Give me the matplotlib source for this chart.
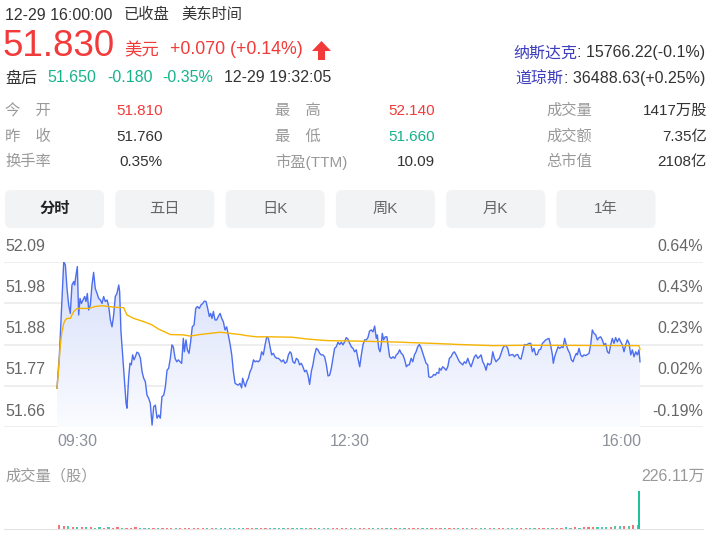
import numpy as np
import matplotlib
matplotlib.use("Agg")
import matplotlib.pyplot as plt
from matplotlib.patches import FancyBboxPatch, Polygon

plt.rcParams['font.family'] = ['Liberation Sans', 'Noto Sans CJK SC', 'DejaVu Sans']

RED = "#f23a3a"
GREEN = "#17b28c"
DARK = "#333333"
GRAY = "#999999"

# ---- data ----
prev_close = 51.76

# minutes after 09:30 and last price
t_price = [0, 1.6, 4.5, 5.6, 6.7, 7.8, 8.9, 10.0, 11.2, 11.8, 12.7, 13.6, 14.5, 15.4, 16.3, 17.4,
           18.5, 19.4, 20.3, 21.2, 22.3, 23.4, 24.5, 25.6, 26.8, 27.9, 29.0, 30.1, 31.2, 32.3, 33.5,
           34.6, 35.7, 36.8, 37.9, 39.0, 40.1, 41.3, 41.9, 42.8, 43.9, 45.0, 46.2, 46.8, 47.9, 48.8,
           49.7, 50.6, 51.5, 52.4, 53.5, 54.6, 55.8, 56.9, 58.0, 59.1, 60.2, 61.3, 62.4, 63.6, 64.7,
           65.8, 66.9, 68.0, 69.1, 70.2, 71.4, 72.5, 73.6, 74.7, 75.8, 76.9, 77.8, 79.0, 80.1, 81.2,
           82.3, 83.4, 84.5, 85.2, 86.3, 87.2, 88.3, 89.4, 90.5, 91.7, 92.8, 93.9, 95.2, 96.3, 97.5,
           98.6, 99.7, 100.8, 101.9, 102.8, 103.7, 104.6, 105.7, 106.8, 107.9, 109.1, 110.2, 111.3,
           112.4, 113.5, 114.6, 115.7, 116.9, 118.0, 119.1, 120.2, 121.3, 122.4, 123.5, 124.2, 125.1,
           126.0, 126.9, 128.0, 129.1, 130.2, 131.4, 132.5, 133.6, 134.7, 135.8, 136.9, 138.0, 139.2,
           140.3, 141.4, 142.5, 143.6, 144.7, 145.8, 147.0, 148.1, 149.2, 150.3, 151.4, 152.5, 153.7,
           154.8, 155.9, 156.7, 157.8, 159.0, 160.1, 161.2, 162.3, 163.4, 164.5, 165.7, 166.8, 167.9,
           169.0, 170.1, 171.2, 172.3, 173.5, 174.6, 175.7, 176.8, 177.9, 179.0, 180.2, 181.3, 182.4,
           183.5, 184.6, 185.7, 186.8, 188.0, 189.1, 190.2, 191.3, 192.4, 193.5, 194.6, 195.8, 196.9,
           198.0, 199.1, 200.2, 201.3, 202.5, 203.6, 204.7, 205.8, 206.9, 208.0, 209.1, 210.3, 211.4,
           212.5, 213.6, 214.3, 215.2, 216.1, 216.9, 217.6, 218.5, 219.6, 220.7, 221.4, 222.5, 223.6,
           224.8, 225.9, 227.0, 228.1, 229.2, 230.3, 231.4, 232.6, 233.7, 234.8, 235.7, 236.9, 238.0,
           239.1, 240.2, 241.3, 242.4, 243.5, 244.7, 245.8, 246.9, 248.0, 248.7, 249.6, 250.9, 252.0,
           253.1, 254.2, 255.4, 255.8, 256.9, 258.0, 259.2, 260.3, 261.4, 262.5, 263.6, 264.7, 265.8,
           267.0, 268.1, 269.2, 270.3, 271.4, 272.5, 273.6, 274.8, 275.9, 277.0, 278.1, 279.2, 280.3,
           281.5, 282.6, 283.7, 284.8, 285.9, 287.0, 288.1, 289.3, 290.4, 291.5, 292.6, 293.7, 294.8,
           295.9, 297.1, 298.2, 299.3, 300.4, 301.5, 302.6, 303.8, 304.9, 306.0, 307.1, 308.2, 309.3,
           310.4, 311.6, 312.7, 313.5, 314.6, 315.8, 316.9, 318.0, 319.1, 320.2, 321.3, 322.4, 323.6,
           324.7, 325.8, 326.9, 328.0, 329.1, 330.2, 331.4, 332.0, 332.9, 334.0, 335.2, 336.3, 337.4,
           338.5, 339.6, 340.7, 341.8, 343.0, 344.1, 345.2, 346.3, 347.4, 348.1, 349.2, 350.3, 351.4,
           352.5, 353.7, 354.8, 355.9, 357.0, 358.1, 359.2, 360.4, 361.5, 362.6, 363.7, 364.8, 365.9,
           367.0, 368.2, 369.3, 370.4, 371.5, 372.6, 373.7, 374.8, 376.0, 377.1, 378.2, 379.3, 380.4,
           381.5, 382.7, 383.8, 384.9, 386.0, 387.1, 388.2, 389.3, 390.0]
price = [51.761, 51.848, 52.091, 52.082, 52.021, 51.978, 51.956, 52.030, 52.039, 52.030, 52.056,
         52.078, 51.952, 51.995, 51.982, 51.991, 52.000, 51.987, 52.008, 51.965, 51.978, 52.030,
         52.063, 52.021, 52.008, 51.995, 51.991, 51.982, 52.000, 51.987, 51.991, 51.974, 51.939,
         51.921, 51.952, 52.000, 52.008, 52.030, 52.013, 51.908, 51.848, 51.787, 51.722, 51.709,
         51.787, 51.826, 51.822, 51.848, 51.835, 51.843, 51.855, 51.852, 51.839, 51.804, 51.787,
         51.778, 51.743, 51.735, 51.722, 51.665, 51.713, 51.717, 51.683, 51.691, 51.683, 51.739,
         51.743, 51.765, 51.808, 51.813, 51.839, 51.874, 51.869, 51.839, 51.830, 51.835, 51.830,
         51.826, 51.891, 51.856, 51.887, 51.861, 51.852, 51.882, 51.921, 51.926, 51.969, 51.974,
         51.969, 51.978, 51.982, 51.988, 51.987, 51.969, 51.948, 51.956, 51.943, 51.961, 51.939,
         51.939, 51.948, 51.956, 51.943, 51.934, 51.913, 51.921, 51.900, 51.878, 51.848, 51.804,
         51.774, 51.771, 51.769, 51.774, 51.762, 51.787, 51.774, 51.765, 51.778, 51.787, 51.804,
         51.813, 51.835, 51.830, 51.832, 51.830, 51.835, 51.856, 51.848, 51.874, 51.895, 51.891,
         51.869, 51.848, 51.852, 51.843, 51.839, 51.839, 51.835, 51.830, 51.835, 51.826, 51.830,
         51.848, 51.856, 51.852, 51.830, 51.826, 51.839, 51.835, 51.822, 51.826, 51.817, 51.804,
         51.808, 51.795, 51.771, 51.804, 51.822, 51.848, 51.865, 51.861, 51.852, 51.848, 51.848,
         51.843, 51.822, 51.793, 51.795, 51.813, 51.839, 51.865, 51.869, 51.881, 51.875, 51.881,
         51.874, 51.882, 51.893, 51.889, 51.878, 51.869, 51.865, 51.856, 51.861, 51.839, 51.817,
         51.848, 51.874, 51.887, 51.887, 51.893, 51.910, 51.913, 51.908, 51.923, 51.891, 51.900,
         51.865, 51.856, 51.874, 51.904, 51.887, 51.895, 51.895, 51.874, 51.843, 51.839, 51.843,
         51.839, 51.848, 51.852, 51.861, 51.852, 51.848, 51.835, 51.817, 51.822, 51.822, 51.839,
         51.830, 51.848, 51.856, 51.869, 51.875, 51.867, 51.852, 51.839, 51.826, 51.822, 51.791,
         51.789, 51.791, 51.797, 51.795, 51.802, 51.800, 51.813, 51.808, 51.817, 51.813, 51.808,
         51.817, 51.839, 51.843, 51.852, 51.856, 51.848, 51.839, 51.830, 51.826, 51.822, 51.830,
         51.826, 51.839, 51.826, 51.817, 51.830, 51.843, 51.848, 51.839, 51.843, 51.848, 51.830,
         51.822, 51.808, 51.826, 51.822, 51.826, 51.856, 51.839, 51.830, 51.835, 51.839, 51.852,
         51.865, 51.872, 51.872, 51.865, 51.846, 51.848, 51.849, 51.843, 51.848, 51.849, 51.839,
         51.837, 51.856, 51.875, 51.874, 51.875, 51.878, 51.878, 51.856, 51.865, 51.848, 51.849,
         51.861, 51.863, 51.878, 51.882, 51.887, 51.889, 51.891, 51.874, 51.848, 51.826, 51.843,
         51.856, 51.869, 51.865, 51.869, 51.867, 51.891, 51.874, 51.861, 51.852, 51.835, 51.830,
         51.843, 51.852, 51.848, 51.865, 51.848, 51.843, 51.848, 51.846, 51.849, 51.852, 51.874,
         51.913, 51.904, 51.900, 51.887, 51.893, 51.895, 51.887, 51.874, 51.878, 51.856, 51.852,
         51.874, 51.891, 51.878, 51.893, 51.882, 51.891, 51.882, 51.874, 51.856, 51.874, 51.887,
         51.878, 51.848, 51.861, 51.843, 51.856, 51.848, 51.861, 51.830]

# average price line
t_avg = [0, 1.1, 2.2, 3.3, 4.5, 5.6, 6.7, 8.9, 10.0, 11.2, 13.4, 21.2, 25.6, 30.1, 34.6, 39.0,
         44.6, 46.8, 51.3, 54.6, 59.1, 63.6, 68.0, 72.5, 75.8, 84.5, 89.0, 95.7, 102.4, 109.1,
         115.7, 122.4, 126.9, 133.6, 142.5, 157.2, 167.9, 181.3, 199.1, 221.4, 230.3, 236.1,
         251.3, 269.2, 291.5, 315.1, 389.3, 390.0]
avg_price = [51.761, 51.813, 51.874, 51.908, 51.930, 51.939, 51.943, 51.943, 51.952, 51.961,
             51.969, 51.969, 51.974, 51.976, 51.974, 51.972, 51.971, 51.952, 51.943, 51.939,
             51.933, 51.926, 51.915, 51.907, 51.901, 51.900, 51.897, 51.901, 51.904, 51.907,
             51.904, 51.901, 51.898, 51.895, 51.895, 51.894, 51.889, 51.885, 51.884, 51.882,
             51.881, 51.880, 51.878, 51.875, 51.872, 51.873, 51.872, 51.862]

# volume, 3-minute bins (万股), plus closing print
vol_3min = [26, 20, 16, 13, 11, 10, 11, 9, 8, 10,
            7, 9, 8, 11, 7, 8, 6, 10, 7, 6,
            7, 6, 8, 5, 6, 7, 5, 6, 5, 5,
            5, 5, 6, 5, 5, 5, 4, 5, 5, 5,
            5, 4, 5, 5, 4, 5, 5, 4, 5, 5,
            4, 5, 4, 5, 5, 4, 5, 4, 5, 6,
            5, 5, 4, 5, 5, 5, 4, 5, 5, 7,
            6, 5, 5, 6, 5, 5, 4, 5, 5, 5,
            5, 4, 5, 5, 5, 4, 5, 5, 5, 4,
            5, 5, 5, 6, 5, 5, 5, 6, 5, 5,
            5, 6, 5, 7, 6, 5, 6, 7, 6, 7,
            7, 8, 7, 9, 8, 9, 8, 10, 9, 11,
            12, 11, 14, 12, 16, 18, 20, 15, 22, 26]
close_vol = 226.11

grid_prices = [52.09, 51.9825, 51.875, 51.7675, 51.66]
left_labels = ["52.09", "51.98", "51.88", "51.77", "51.66"]
right_labels = ["0.64%", "0.43%", "0.23%", "0.02%", "-0.19%"]

tabs = ["分时", "五日", "日K", "周K", "月K", "1年"]

info_rows = [
    [("今\u3000开", "51.810", RED), ("最\u3000高", "52.140", RED), ("成交量", "1417万股", DARK)],
    [("昨\u3000收", "51.760", DARK), ("最\u3000低", "51.660", GREEN), ("成交额", "7.35亿", DARK)],
    [("换手率", "0.35%", DARK), ("市盈(TTM)", "10.09", DARK), ("总市值", "2108亿", DARK)],
]

# ---- figure ----
W, H = 713, 542
fig = plt.figure(figsize=(W / 100, H / 100), dpi=100)
fig.patch.set_facecolor("white")

ax0 = fig.add_axes([0, 0, 1, 1])
ax0.set_xlim(0, W)
ax0.set_ylim(H, 0)
ax0.axis("off")


def txt(x, y, s, size=11, color=DARK, ha="left", weight="normal"):
    return ax0.text(x, y, s, fontsize=size, color=color, ha=ha, va="center", weight=weight)


# header
txt(5, 15, "12-29 16:00:00", 11.5)
txt(124, 15, "已收盘", 11)
txt(181, 15, "美东时间", 11)
txt(3, 46, "51.830", 26.5, RED)
txt(124, 50, "美元", 12.5, RED)
txt(170, 50, "+0.070 (+0.14%)", 12.8, RED)
ax0.add_patch(Polygon([(312, 51), (321.5, 41), (331, 51), (325, 51), (325, 60),
                       (318, 60), (318, 51)], closed=True, color=RED, lw=0))
txt(5, 78, "盘后", 11.5)
txt(47, 78, "51.650", 11.5, GREEN)
txt(107, 78, "-0.180", 11.5, GREEN)
txt(162, 78, "-0.35%", 11.5, GREEN)
txt(224, 78, "12-29 19:32:05", 11.5)

for y, name, val in [(53, "纳斯达克", ": 15766.22(-0.1%)"), (79, "道琼斯", ": 36488.63(+0.25%)")]:
    v = txt(705, y, val, 11.5, DARK, ha="right")
    ax0.annotate(name, xy=(0, 0.5), xycoords=v, ha="right", va="center",
                 fontsize=11.5, color="#3d3dbd")

# info table
col_label_x = [5, 275, 546]
col_value_x = [163, 435, 707]
for row, y in zip(info_rows, [111, 137, 162]):
    for c, (lab, val, col) in enumerate(row):
        txt(col_label_x[c], y, lab, 11, GRAY)
        txt(col_value_x[c], y, val, 11, col, ha="right")

# tabs
for i, name in enumerate(tabs):
    x0 = 5 + i * 110.3
    ax0.add_patch(FancyBboxPatch((x0, 190), 99, 38, boxstyle="round,pad=0,rounding_size=6",
                                 fc="#f2f3f5", ec="none"))
    if i == 0:
        txt(x0 + 49.5, 209, name, 11, "#222222", ha="center", weight="bold")
    else:
        txt(x0 + 49.5, 209, name, 11, "#666666", ha="center")

# ---- price chart ----
px_left, px_right, x_start, x_end = 4, 703, 57, 640
span = 390
m_per_px = span / (x_end - x_start)
xlim = (-(x_start - px_left) * m_per_px, span + (px_right - x_end) * m_per_px)

ax = fig.add_axes([px_left / W, (H - 427) / H, (px_right - px_left) / W, 165 / H])
ax.set_xlim(*xlim)
ax.set_ylim(51.66, 52.09)
for s in ax.spines.values():
    s.set_visible(False)
ax.set_xticks([])
ax.set_yticks(grid_prices)
ax.tick_params(length=0, labelleft=False)
ax.grid(axis="y", color="#ebebeb", lw=1.2)
ax.set_axisbelow(True)
ax.patch.set_alpha(0)

poly = ax.fill_between(t_price, price, 51.66, color="none", lw=0)
grad = np.linspace(0, 1, 256).reshape(-1, 1)
top = np.array([214, 222, 250]) / 255
bot = np.array([251, 252, 255]) / 255
img = top + (bot - top) * grad[:, :, None]
im = ax.imshow(img, extent=[0, span, 51.66, 52.09], aspect="auto", origin="upper", zorder=1)
im.set_clip_path(poly.get_paths()[0], transform=ax.transData)
ax.set_xlim(*xlim)
ax.set_ylim(51.66, 52.09)

ax.plot(t_price, price, color="#4c6ef0", lw=1.0, zorder=3)
ax.plot(t_avg, avg_price, color="#f6b400", lw=1.0, zorder=4)

for gp, ll, rl in zip(grid_prices, left_labels, right_labels):
    ax.annotate(ll, xy=(0, gp), xycoords=("axes fraction", "data"), xytext=(1, 6),
                textcoords="offset points", ha="left", va="bottom", fontsize=11.5, color="#666666")
    ax.annotate(rl, xy=(1, gp), xycoords=("axes fraction", "data"), xytext=(0, 6),
                textcoords="offset points", ha="right", va="bottom", fontsize=11.5, color="#666666")

txt(57, 442, "09:30", 11.5, "#8c909a")
txt(350, 442, "12:30", 11.5, "#8c909a", ha="center")
txt(642, 442, "16:00", 11.5, "#8c909a", ha="right")

# ---- volume ----
txt(5, 476, "成交量（股）", 11, GRAY)
txt(705, 476, "226.11万", 11.5, GRAY, ha="right")

axv = fig.add_axes([px_left / W, (H - 529) / H, (px_right - px_left) / W, 38 / H])
axv.set_xlim(*xlim)
axv.set_ylim(0, close_vol)
axv.patch.set_alpha(0)
for k, s in axv.spines.items():
    s.set_visible(k == "bottom")
axv.spines["bottom"].set_color("#e3e3e3")
axv.set_xticks([])
axv.set_yticks([])

t_bins = np.arange(len(vol_3min)) * 3 + 1.5
p_open = np.interp(t_bins - 1.5, t_price, price)
p_close = np.interp(t_bins + 1.5, t_price, price)
vcolors = ["#f35b5d" if c >= o else "#2cbf9c" for o, c in zip(p_open, p_close)]
axv.bar(t_bins, vol_3min, width=1.5, color=vcolors, lw=0, alpha=0.85)
axv.bar([span - 0.5], [close_vol], width=1.4, color="#1fc29b", lw=0)

fig.savefig("out.png", dpi=100)
